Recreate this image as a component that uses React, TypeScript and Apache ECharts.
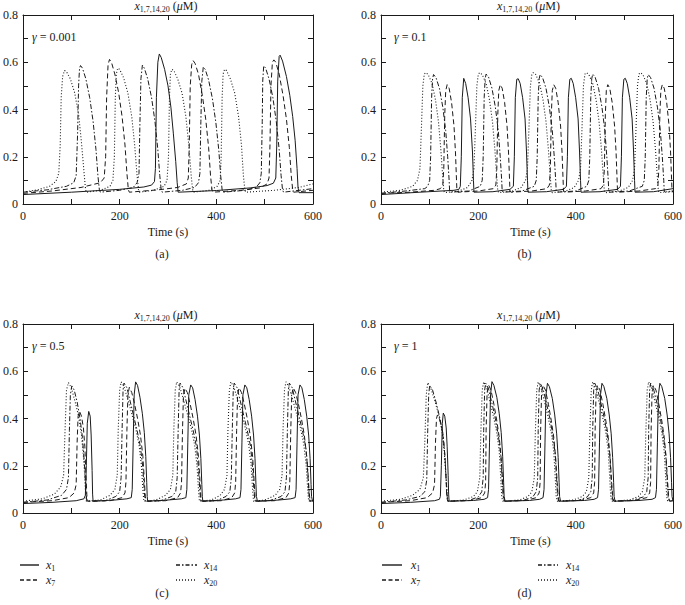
import React, { useEffect, useRef } from "react";
import * as echarts from "echarts";

// ---------- Data (time s, concentration µM) ----------
// Panel (a) gamma = 0.001
const a_x1 = [[0,0.04],[100,0.05],[200,0.062],[250,0.072],[266,0.08],[272,0.095],[274,0.15],[276,0.45],[279,0.6],[282,0.635],[286,0.62],[293,0.57],[300,0.5],[306,0.41],[311,0.3],[316,0.18],[319,0.09],[321,0.05],[400,0.057],[470,0.068],[505,0.078],[518,0.088],[523,0.11],[525,0.25],[527,0.52],[530,0.625],[532,0.63],[537,0.605],[545,0.54],[552,0.46],[558,0.37],[563,0.27],[567,0.15],[569,0.07],[571,0.048],[600,0.048]];
const a_x7 = [[0,0.045],[60,0.055],[120,0.07],[160,0.09],[168,0.11],[171,0.2],[173,0.45],[176,0.59],[179,0.612],[183,0.6],[190,0.55],[198,0.47],[205,0.37],[211,0.25],[215,0.13],[218,0.06],[220,0.05],[280,0.06],[320,0.07],[338,0.085],[342,0.11],[344,0.25],[346,0.5],[349,0.59],[352,0.607],[356,0.595],[363,0.55],[371,0.46],[378,0.36],[384,0.24],[388,0.12],[391,0.06],[393,0.05],[450,0.058],[490,0.068],[505,0.085],[509,0.11],[511,0.25],[513,0.5],[516,0.6],[519,0.61],[523,0.6],[530,0.55],[538,0.46],[545,0.36],[551,0.24],[555,0.12],[558,0.06],[560,0.05],[600,0.058]];
const a_x14 = [[0,0.05],[50,0.06],[90,0.075],[105,0.09],[110,0.12],[113,0.3],[115,0.5],[117,0.575],[119,0.586],[123,0.575],[130,0.53],[138,0.45],[145,0.35],[151,0.23],[155,0.12],[158,0.06],[160,0.05],[200,0.058],[228,0.07],[236,0.09],[240,0.13],[242,0.35],[244,0.53],[247,0.588],[251,0.575],[258,0.53],[266,0.45],[273,0.35],[279,0.23],[283,0.12],[286,0.06],[288,0.05],[330,0.058],[355,0.07],[363,0.09],[366,0.13],[368,0.35],[370,0.52],[373,0.58],[377,0.57],[384,0.525],[392,0.445],[399,0.345],[405,0.23],[409,0.12],[412,0.06],[414,0.05],[460,0.058],[482,0.07],[490,0.09],[493,0.13],[495,0.35],[496,0.52],[498,0.585],[502,0.575],[509,0.53],[517,0.45],[524,0.35],[530,0.23],[534,0.12],[537,0.06],[539,0.05],[600,0.065]];
const a_x20 = [[0,0.05],[30,0.06],[55,0.075],[68,0.095],[74,0.13],[77,0.25],[79,0.45],[82,0.54],[86,0.565],[90,0.56],[98,0.53],[107,0.47],[115,0.38],[121,0.26],[126,0.14],[129,0.07],[131,0.05],[160,0.058],[180,0.075],[186,0.1],[189,0.2],[191,0.45],[193,0.55],[196,0.575],[200,0.57],[208,0.535],[217,0.47],[225,0.37],[231,0.25],[236,0.12],[239,0.06],[241,0.05],[270,0.058],[292,0.075],[298,0.1],[301,0.2],[303,0.45],[305,0.55],[308,0.57],[312,0.565],[320,0.53],[329,0.47],[337,0.37],[343,0.25],[348,0.12],[351,0.06],[353,0.05],[385,0.058],[402,0.075],[408,0.1],[410,0.2],[412,0.45],[414,0.55],[417,0.57],[421,0.565],[429,0.53],[438,0.47],[446,0.37],[452,0.25],[456,0.12],[459,0.06],[461,0.05],[520,0.058],[570,0.07],[600,0.085]];

// Panel (b) gamma = 0.1
const b_x1 = [[0,0.04],[80,0.05],[150,0.058],[160,0.062],[163,0.075],[165,0.2],[167,0.45],[170,0.532],[174,0.51],[179,0.45],[184,0.36],[188,0.22],[190,0.1],[191,0.05],[230,0.052],[265,0.062],[272,0.075],[274,0.2],[276,0.45],[279,0.528],[282,0.53],[286,0.51],[291,0.45],[296,0.36],[299,0.22],[301,0.1],[302,0.05],[340,0.052],[375,0.062],[381,0.075],[383,0.2],[385,0.45],[388,0.528],[391,0.532],[395,0.51],[400,0.45],[405,0.36],[408,0.22],[410,0.1],[411,0.05],[450,0.052],[486,0.062],[492,0.075],[494,0.2],[496,0.45],[499,0.528],[502,0.532],[506,0.51],[511,0.45],[516,0.36],[519,0.22],[521,0.1],[522,0.05],[560,0.052],[600,0.065]];
const b_x7 = [[0,0.045],[60,0.05],[110,0.058],[122,0.065],[127,0.08],[129,0.15],[131,0.38],[133,0.48],[136,0.505],[140,0.49],[145,0.43],[150,0.33],[153,0.22],[155,0.11],[156,0.055],[158,0.05],[200,0.055],[231,0.065],[236,0.08],[238,0.15],[240,0.38],[242,0.48],[245,0.505],[249,0.49],[254,0.43],[259,0.33],[262,0.22],[264,0.11],[265,0.055],[267,0.05],[310,0.055],[341,0.065],[346,0.08],[348,0.15],[350,0.38],[352,0.48],[355,0.505],[359,0.49],[364,0.43],[369,0.33],[372,0.22],[374,0.11],[375,0.055],[377,0.05],[420,0.055],[452,0.065],[457,0.08],[459,0.15],[461,0.38],[463,0.48],[466,0.505],[470,0.49],[475,0.43],[480,0.33],[483,0.22],[485,0.11],[486,0.055],[488,0.05],[530,0.055],[564,0.065],[569,0.08],[571,0.15],[573,0.38],[575,0.48],[578,0.505],[582,0.49],[587,0.43],[592,0.33],[595,0.22],[597,0.11],[598,0.055],[600,0.05]];
const b_x14 = [[0,0.045],[50,0.055],[90,0.065],[96,0.075],[100,0.1],[102,0.2],[104,0.45],[106,0.53],[108,0.548],[113,0.535],[120,0.49],[127,0.41],[133,0.31],[137,0.2],[140,0.1],[141,0.055],[143,0.05],[180,0.055],[204,0.075],[208,0.1],[210,0.2],[212,0.45],[214,0.53],[216,0.55],[221,0.537],[228,0.49],[235,0.41],[241,0.31],[245,0.2],[248,0.1],[249,0.055],[251,0.05],[290,0.055],[315,0.075],[319,0.1],[321,0.2],[323,0.45],[325,0.53],[327,0.548],[332,0.535],[339,0.49],[346,0.41],[352,0.31],[356,0.2],[359,0.1],[360,0.055],[362,0.05],[400,0.055],[423,0.075],[427,0.1],[429,0.2],[431,0.45],[433,0.53],[435,0.55],[440,0.537],[447,0.49],[454,0.41],[460,0.31],[464,0.2],[467,0.1],[468,0.055],[470,0.05],[510,0.055],[537,0.075],[541,0.1],[543,0.2],[545,0.45],[547,0.53],[549,0.548],[554,0.535],[561,0.49],[568,0.41],[574,0.31],[578,0.2],[581,0.1],[582,0.055],[584,0.05],[600,0.052]];
const b_x20 = [[0,0.05],[40,0.058],[65,0.075],[75,0.1],[80,0.15],[83,0.32],[86,0.5],[89,0.55],[92,0.556],[97,0.548],[105,0.51],[112,0.44],[118,0.35],[123,0.23],[127,0.11],[129,0.055],[131,0.048],[160,0.055],[178,0.07],[187,0.1],[191,0.15],[194,0.32],[197,0.5],[200,0.55],[203,0.556],[208,0.548],[216,0.51],[223,0.44],[229,0.35],[234,0.23],[238,0.11],[240,0.055],[242,0.048],[270,0.055],[288,0.07],[297,0.1],[301,0.15],[304,0.32],[307,0.5],[310,0.55],[313,0.556],[318,0.548],[326,0.51],[333,0.44],[339,0.35],[344,0.23],[348,0.11],[350,0.055],[352,0.048],[380,0.055],[397,0.07],[406,0.1],[410,0.15],[413,0.32],[416,0.5],[419,0.55],[422,0.556],[427,0.548],[435,0.51],[442,0.44],[448,0.35],[453,0.23],[457,0.11],[459,0.055],[461,0.048],[490,0.055],[508,0.07],[517,0.1],[521,0.15],[524,0.32],[527,0.5],[530,0.55],[533,0.556],[538,0.548],[546,0.51],[553,0.44],[559,0.35],[564,0.23],[568,0.11],[570,0.055],[572,0.048],[600,0.055]];

// Panel (c) gamma = 0.5
const c_x1 = [[0,0.04],[60,0.045],[110,0.052],[126,0.06],[129,0.075],[131,0.2],[133,0.38],[136,0.43],[139,0.41],[141,0.33],[143,0.18],[144,0.08],[145,0.05],[190,0.055],[215,0.06],[224,0.065],[226,0.1],[228,0.3],[230,0.5],[233,0.555],[237,0.54],[242,0.49],[247,0.42],[251,0.34],[254,0.24],[256,0.13],[257,0.07],[258,0.05],[300,0.055],[328,0.06],[337,0.065],[339,0.1],[341,0.3],[343,0.5],[347,0.542],[351,0.53],[356,0.48],[361,0.41],[365,0.33],[368,0.23],[370,0.12],[371,0.07],[372,0.05],[415,0.055],[440,0.06],[449,0.065],[451,0.1],[453,0.3],[455,0.5],[459,0.542],[463,0.53],[468,0.48],[473,0.41],[477,0.33],[480,0.23],[482,0.12],[483,0.07],[485,0.05],[530,0.055],[554,0.06],[563,0.065],[565,0.1],[567,0.3],[569,0.5],[573,0.542],[577,0.53],[582,0.48],[587,0.41],[591,0.33],[594,0.23],[596,0.12],[597,0.07],[599,0.05],[600,0.05]];
const c_x7 = [[0,0.045],[60,0.052],[95,0.065],[106,0.085],[110,0.12],[112,0.3],[114,0.41],[117,0.43],[121,0.41],[125,0.36],[128,0.28],[130,0.17],[132,0.08],[133,0.05],[180,0.052],[205,0.065],[211,0.085],[213,0.13],[215,0.35],[217,0.5],[220,0.532],[225,0.51],[231,0.46],[237,0.4],[243,0.33],[248,0.24],[251,0.14],[253,0.07],[255,0.05],[295,0.052],[320,0.065],[326,0.085],[328,0.13],[330,0.35],[332,0.5],[335,0.528],[340,0.51],[346,0.46],[352,0.4],[358,0.33],[363,0.24],[366,0.14],[368,0.07],[370,0.05],[410,0.052],[432,0.065],[438,0.085],[440,0.13],[442,0.35],[444,0.5],[447,0.53],[452,0.51],[458,0.46],[464,0.4],[470,0.33],[475,0.24],[478,0.14],[480,0.07],[482,0.05],[520,0.052],[544,0.065],[550,0.085],[552,0.13],[554,0.35],[556,0.5],[559,0.53],[564,0.51],[570,0.46],[576,0.4],[582,0.33],[587,0.24],[590,0.14],[592,0.07],[594,0.05],[600,0.052]];
const c_x14 = [[0,0.045],[50,0.055],[80,0.075],[90,0.1],[94,0.15],[96,0.35],[98,0.5],[101,0.538],[106,0.52],[112,0.47],[118,0.4],[123,0.32],[127,0.21],[130,0.1],[132,0.05],[170,0.052],[192,0.07],[200,0.09],[203,0.15],[205,0.35],[207,0.52],[209,0.55],[215,0.53],[222,0.47],[229,0.41],[236,0.35],[243,0.28],[248,0.19],[251,0.09],[253,0.05],[285,0.052],[308,0.07],[316,0.09],[319,0.15],[321,0.35],[323,0.52],[325,0.55],[331,0.53],[338,0.47],[345,0.41],[352,0.35],[359,0.28],[363,0.19],[366,0.09],[368,0.05],[400,0.052],[420,0.07],[428,0.09],[431,0.15],[433,0.35],[435,0.52],[437,0.55],[443,0.53],[450,0.47],[457,0.41],[464,0.35],[471,0.28],[475,0.19],[478,0.09],[480,0.05],[510,0.052],[534,0.07],[542,0.09],[545,0.15],[547,0.35],[549,0.52],[551,0.55],[557,0.53],[564,0.47],[571,0.41],[578,0.35],[585,0.28],[589,0.19],[592,0.09],[594,0.05],[600,0.052]];
const c_x20 = [[0,0.05],[40,0.06],[65,0.08],[78,0.11],[84,0.16],[87,0.35],[90,0.52],[94,0.552],[100,0.53],[108,0.47],[115,0.41],[121,0.33],[126,0.22],[129,0.1],[131,0.05],[160,0.055],[180,0.075],[190,0.1],[195,0.16],[197,0.35],[200,0.52],[203,0.555],[209,0.535],[217,0.48],[225,0.42],[233,0.36],[240,0.29],[245,0.2],[248,0.1],[250,0.05],[275,0.055],[295,0.075],[305,0.1],[310,0.16],[312,0.35],[315,0.52],[318,0.555],[324,0.535],[332,0.48],[340,0.42],[348,0.36],[355,0.29],[360,0.2],[363,0.1],[365,0.05],[390,0.055],[408,0.075],[417,0.1],[422,0.16],[424,0.35],[427,0.52],[430,0.555],[436,0.535],[444,0.48],[452,0.42],[460,0.36],[467,0.29],[472,0.2],[475,0.1],[477,0.05],[500,0.055],[522,0.075],[531,0.1],[536,0.16],[538,0.35],[541,0.52],[544,0.555],[550,0.535],[558,0.48],[566,0.42],[574,0.36],[581,0.29],[586,0.2],[589,0.1],[591,0.05],[600,0.052]];

// Panel (d) gamma = 1
const d_x1 = [[0,0.04],[60,0.045],[110,0.052],[120,0.058],[122,0.07],[124,0.2],[126,0.38],[128,0.423],[131,0.41],[134,0.36],[136,0.28],[138,0.16],[139,0.08],[140,0.05],[190,0.053],[212,0.058],[219,0.065],[221,0.1],[223,0.3],[225,0.5],[228,0.556],[232,0.54],[238,0.49],[243,0.42],[247,0.34],[250,0.24],[252,0.13],[253,0.07],[255,0.05],[305,0.053],[326,0.058],[333,0.065],[335,0.1],[337,0.3],[339,0.5],[342,0.549],[346,0.535],[352,0.485],[357,0.415],[361,0.335],[364,0.235],[366,0.13],[367,0.07],[369,0.05],[418,0.053],[438,0.058],[445,0.065],[447,0.1],[449,0.3],[451,0.5],[454,0.549],[458,0.535],[464,0.485],[469,0.415],[473,0.335],[476,0.235],[478,0.13],[479,0.07],[481,0.05],[530,0.053],[557,0.058],[564,0.065],[566,0.1],[568,0.3],[570,0.5],[573,0.549],[577,0.535],[583,0.485],[588,0.415],[592,0.335],[595,0.235],[597,0.13],[598,0.07],[600,0.05]];
const d_x7 = [[0,0.045],[60,0.052],[95,0.065],[106,0.085],[110,0.12],[112,0.3],[114,0.4],[116,0.415],[120,0.4],[125,0.36],[129,0.3],[132,0.22],[134,0.13],[135,0.07],[137,0.05],[185,0.053],[207,0.065],[213,0.085],[215,0.13],[216,0.35],[218,0.51],[221,0.542],[226,0.52],[232,0.46],[238,0.39],[243,0.32],[247,0.23],[250,0.13],[252,0.07],[254,0.05],[298,0.053],[319,0.065],[325,0.085],[327,0.13],[328,0.35],[330,0.51],[333,0.54],[338,0.52],[344,0.46],[350,0.39],[355,0.32],[359,0.23],[362,0.13],[364,0.07],[366,0.05],[410,0.053],[431,0.065],[437,0.085],[439,0.13],[440,0.35],[442,0.51],[445,0.54],[450,0.52],[456,0.46],[462,0.39],[467,0.32],[471,0.23],[474,0.13],[476,0.07],[478,0.05],[520,0.053],[546,0.065],[552,0.085],[554,0.13],[555,0.35],[557,0.51],[560,0.54],[565,0.52],[571,0.46],[577,0.39],[582,0.32],[586,0.23],[589,0.13],[591,0.07],[593,0.05],[600,0.052]];
const d_x14 = [[0,0.045],[50,0.055],[80,0.07],[90,0.09],[94,0.14],[96,0.35],[98,0.5],[100,0.54],[106,0.52],[113,0.47],[120,0.41],[127,0.34],[131,0.25],[134,0.14],[136,0.07],[138,0.05],[180,0.053],[200,0.068],[207,0.09],[210,0.15],[211,0.35],[213,0.52],[215,0.55],[221,0.525],[228,0.465],[235,0.4],[241,0.33],[246,0.25],[249,0.14],[251,0.07],[253,0.05],[292,0.053],[312,0.068],[319,0.09],[322,0.15],[323,0.35],[325,0.52],[327,0.55],[333,0.525],[340,0.465],[347,0.4],[353,0.33],[358,0.25],[361,0.14],[363,0.07],[365,0.05],[405,0.053],[424,0.068],[431,0.09],[434,0.15],[435,0.35],[437,0.52],[439,0.55],[445,0.525],[452,0.465],[459,0.4],[465,0.33],[470,0.25],[473,0.14],[475,0.07],[477,0.05],[515,0.053],[539,0.068],[546,0.09],[549,0.15],[550,0.35],[552,0.52],[554,0.55],[560,0.525],[567,0.465],[574,0.4],[580,0.33],[585,0.25],[588,0.14],[590,0.07],[592,0.05],[600,0.052]];
const d_x20 = [[0,0.05],[40,0.058],[65,0.075],[80,0.1],[87,0.15],[90,0.3],[93,0.5],[96,0.552],[102,0.53],[110,0.48],[118,0.42],[125,0.35],[130,0.26],[134,0.14],[136,0.07],[138,0.05],[170,0.055],[190,0.07],[198,0.09],[203,0.15],[205,0.33],[208,0.52],[211,0.555],[217,0.53],[224,0.47],[231,0.41],[238,0.34],[243,0.26],[246,0.15],[248,0.07],[250,0.05],[285,0.055],[302,0.07],[310,0.09],[315,0.15],[317,0.33],[320,0.52],[323,0.555],[329,0.53],[336,0.47],[343,0.41],[350,0.34],[355,0.26],[358,0.15],[360,0.07],[362,0.05],[395,0.055],[414,0.07],[422,0.09],[427,0.15],[429,0.33],[432,0.52],[435,0.555],[441,0.53],[448,0.47],[455,0.41],[462,0.34],[467,0.26],[470,0.15],[472,0.07],[474,0.05],[510,0.055],[529,0.07],[537,0.09],[542,0.15],[544,0.33],[547,0.52],[550,0.555],[556,0.53],[563,0.47],[570,0.41],[577,0.34],[582,0.26],[585,0.15],[587,0.07],[589,0.05],[600,0.052]];

const seriesNames = ["x1", "x7", "x14", "x20"];
const subscripts = ["1", "7", "14", "20"];
const gammaValues = ["0.001", "0.1", "0.5", "1"];
const panelLetters = ["(a)", "(b)", "(c)", "(d)"];
const panelData = [
  [a_x1, a_x7, a_x14, a_x20],
  [b_x1, b_x7, b_x14, b_x20],
  [c_x1, c_x7, c_x14, c_x20],
  [d_x1, d_x7, d_x14, d_x20],
];
const xTicks = { min: 0, max: 600, interval: 100 };
const yTicks = { min: 0, max: 0.8, interval: 0.1 };

// ---------- Layout / style ----------
const FONT = "Liberation Serif";
const INK = "#1a1a1a";
const grids = [
  { left: 19, top: 15, width: 294, height: 189 },
  { left: 381, top: 15, width: 295, height: 189 },
  { left: 19, top: 324, width: 294, height: 189 },
  { left: 381, top: 324, width: 295, height: 189 },
];
const dashTypes: any[] = ["solid", [5, 3], [5, 2, 1.5, 2], [1, 2]];

function buildOption() {
  const xAxis: any[] = [];
  const yAxis: any[] = [];
  const series: any[] = [];
  const graphic: any[] = [];

  const richBase = {
    i: { fontStyle: "italic", fontSize: 12, fontFamily: FONT, fill: INK, lineHeight: 14, verticalAlign: "middle" },
    n: { fontSize: 12, fontFamily: FONT, fill: INK, lineHeight: 14, verticalAlign: "middle" },
    s: { fontSize: 8, fontFamily: FONT, fill: INK, lineHeight: 6, verticalAlign: "bottom" },
  };

  grids.forEach((g, p) => {
    const common = {
      gridIndex: p,
      type: "value",
      axisLine: { show: true, onZero: false, lineStyle: { color: INK, width: 1 } },
      axisTick: { show: true, inside: true, length: 5, lineStyle: { color: INK, width: 1 } },
      splitLine: { show: false },
    };
    xAxis.push({
      ...common,
      ...xTicks,
      position: "bottom",
      axisLabel: {
        show: true,
        margin: 6,
        fontFamily: FONT,
        fontSize: 12,
        color: INK,
        showMinLabel: true,
        showMaxLabel: true,
        formatter: (v: number) => (Math.round(v) % 200 === 0 ? String(Math.round(v)) : ""),
      },
    });
    xAxis.push({ ...common, ...xTicks, position: "top", axisLabel: { show: false } });
    yAxis.push({
      ...common,
      ...yTicks,
      position: "left",
      axisLabel: {
        show: true,
        margin: 5,
        fontFamily: FONT,
        fontSize: 12,
        color: INK,
        showMinLabel: true,
        showMaxLabel: true,
        formatter: (v: number) => {
          const r = Math.round(v * 10);
          if (r % 2 !== 0) return "";
          return r === 0 ? "0" : (r / 10).toFixed(1);
        },
      },
    });
    yAxis.push({ ...common, ...yTicks, position: "right", axisLabel: { show: false } });

    panelData[p].forEach((data, k) => {
      series.push({
        name: `${panelLetters[p]} ${seriesNames[k]}`,
        type: "line",
        xAxisIndex: 2 * p,
        yAxisIndex: 2 * p,
        data,
        symbol: "none",
        showSymbol: false,
        silent: true,
        clip: true,
        lineStyle: { color: INK, width: k === 3 ? 1.1 : 1, type: dashTypes[k] },
        z: 4 - k,
      });
    });

    const cx = g.left + g.width / 2;
    // title
    graphic.push({
      type: "text",
      x: cx,
      y: g.top - 9,
      style: {
        text: "{i|x}{s|1,7,14,20}{n| (}{i|μ}{n|M)}",
        rich: richBase,
        align: "center",
        verticalAlign: "middle",
        font: `12px ${FONT}`,
        fill: INK,
      },
    });
    // gamma label
    graphic.push({
      type: "text",
      x: g.left + 13,
      y: g.top + 22,
      style: {
        text: `{i|γ}{n| = ${gammaValues[p]}}`,
        rich: richBase,
        align: "left",
        verticalAlign: "middle",
        font: `12px ${FONT}`,
        fill: INK,
      },
    });
    // Time (s)
    graphic.push({
      type: "text",
      x: cx + 2,
      y: g.top + g.height + 28,
      style: { text: "Time (s)", font: `12px ${FONT}`, fill: INK, align: "center", verticalAlign: "middle" },
    });
    // panel letter
    const letterY = p < 2 ? 254 : 593;
    graphic.push({
      type: "text",
      x: cx - 4,
      y: letterY,
      style: { text: panelLetters[p], font: `12px ${FONT}`, fill: INK, align: "center", verticalAlign: "middle" },
    });
  });

  // legends under (c) and (d)
  const legendCols = [
    { lx: [20, 39, 46], rx: [176, 197, 204] },
    { lx: [382, 402, 411], rx: [538, 558, 566] },
  ];
  const rows = [565, 580];
  const legendDash: any[] = [null, [4, 2.5], [4, 2, 1.5, 2], [1, 2]];
  legendCols.forEach((col) => {
    [0, 1, 2, 3].forEach((k) => {
      const c = k < 2 ? col.lx : col.rx;
      const y = rows[k % 2];
      graphic.push({
        type: "line",
        shape: { x1: c[0], y1: y, x2: c[1], y2: y },
        style: { stroke: INK, lineWidth: 1.4, lineDash: legendDash[k] || null },
      });
      graphic.push({
        type: "text",
        x: c[2],
        y: y,
        style: {
          text: `{i|x}{s|${subscripts[k]}}`,
          rich: richBase,
          align: "left",
          verticalAlign: "middle",
          font: `12px ${FONT}`,
          fill: INK,
        },
      });
    });
  });

  return {
    animation: false,
    backgroundColor: "#ffffff",
    textStyle: { fontFamily: FONT },
    grid: grids.map((g) => ({ ...g, containLabel: false })),
    xAxis,
    yAxis,
    series,
    graphic,
  };
}

export default function App() {
  const ref = useRef<HTMLDivElement>(null);
  useEffect(() => {
    if (!ref.current) return;
    const chart = echarts.init(ref.current, undefined, { renderer: "svg" });
    chart.setOption(buildOption() as any);
    return () => chart.dispose();
  }, []);
  return (
    <div
      ref={ref}
      style={{ position: "fixed", left: 0, top: 0, width: 685, height: 605, background: "#fff" }}
    />
  );
}
